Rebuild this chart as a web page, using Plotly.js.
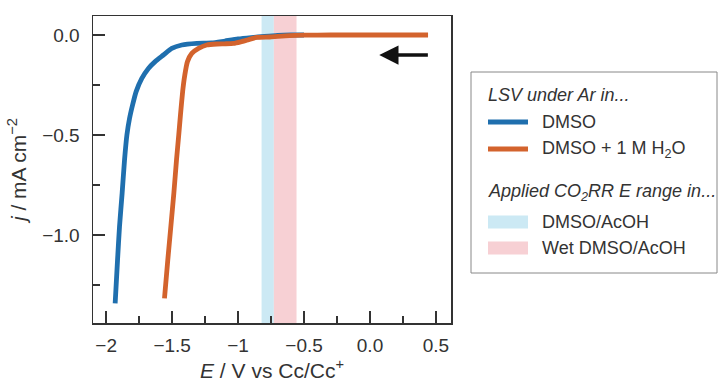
<!DOCTYPE html>
<html>
<head>
<meta charset="utf-8">
<script src="https://cdn.plot.ly/plotly-3.0.1.min.js"></script>
<style>html,body{margin:0;padding:0;background:#fff;}#chart{width:720px;height:382px;}</style>
</head>
<body>
<div id="chart"></div>
<script>
// ---- data ----
const dmsoE = [-1.932,-1.914,-1.899,-1.879,-1.861,-1.843,-1.823,-1.800,-1.773,-1.730,-1.680,-1.629,-1.566,-1.503,-1.427,-1.313,-1.200,-1.100,-1.000,-0.900,-0.800,-0.700,-0.600,-0.500];
const dmsoJ = [-1.342,-1.125,-0.958,-0.790,-0.625,-0.500,-0.417,-0.350,-0.283,-0.217,-0.167,-0.133,-0.100,-0.067,-0.050,-0.042,-0.040,-0.030,-0.020,-0.013,-0.007,-0.002,0.000,0.000];
const wetE = [-1.558,-1.533,-1.510,-1.487,-1.467,-1.450,-1.437,-1.420,-1.404,-1.384,-1.351,-1.300,-1.238,-1.160,-1.100,-1.035,-0.980,-0.930,-0.860,-0.760,-0.700,-0.610,-0.500,-0.300,0.000,0.200,0.440];
const wetJ = [-1.317,-1.125,-0.958,-0.790,-0.625,-0.500,-0.400,-0.280,-0.200,-0.133,-0.092,-0.067,-0.050,-0.045,-0.044,-0.042,-0.034,-0.025,-0.012,-0.010,-0.007,-0.003,-0.001,0.000,0.000,0.000,0.000];
const bandNames = ['DMSO/AcOH','Wet DMSO/AcOH'];
const bandStart = [-0.822,-0.729];
const bandEnd = [-0.729,-0.557];
const seriesNames = ['DMSO','DMSO + 1 M H<sub>2</sub>O'];
const xTickVals = [-2,-1.5,-1,-0.5,0,0.5];
const xTickText = ['\u22122','\u22121.5','\u22121','\u22120.5','0.0','0.5'];
const yTickVals = [0,-0.5,-1.0];
const yTickText = ['0.0','\u22120.5','\u22121.0'];
const legendHeadings = ['LSV under Ar in...','Applied CO<sub>2</sub>RR E range in...'];

// ---- style ----
const blue = '#1f6fae', orange = '#d3632d';
const bandColors = ['#cce9f4','#f7d0d4'];
const txt = '#333333';
const FONT = 'Liberation Sans, Arial, sans-serif';

const W = 720, H = 382;
const M = {l:93, r:269, t:16, b:59};
const pw = W - M.l - M.r, ph = H - M.t - M.b;
const px = v => (v - M.l) / pw;            // pixel -> paper x
const py = v => 1 - (v - M.t) / ph;        // pixel -> paper y

const traces = [
  {x: dmsoE, y: dmsoJ, mode:'lines', line:{color:blue, width:4.8, shape:'spline', smoothing:0.6}, name: seriesNames[0], showlegend:false, hoverinfo:'skip'},
  {x: wetE, y: wetJ, mode:'lines', line:{color:orange, width:4.8, shape:'spline', smoothing:0.5}, name: seriesNames[1], showlegend:false, hoverinfo:'skip'}
];

const shapes = [];
bandStart.forEach((s,i)=>{
  shapes.push({type:'rect', xref:'x', yref:'paper', x0:s, x1:bandEnd[i], y0:0, y1:1, fillcolor:bandColors[i], line:{width:0}, layer:'below'});
});
// legend box
shapes.push({type:'rect', xref:'paper', yref:'paper', x0:px(471), x1:px(717), y0:py(72), y1:py(273), line:{color:'#888888', width:1}, fillcolor:'rgba(0,0,0,0)'});
// legend swatches
const lineRowsY = [122, 149];
const lineCols = [blue, orange];
lineRowsY.forEach((yy,i)=>{
  shapes.push({type:'line', xref:'paper', yref:'paper', x0:px(488), x1:px(528), y0:py(yy), y1:py(yy), line:{color:lineCols[i], width:4.8}});
});
const rectRowsY = [222, 248];
rectRowsY.forEach((yy,i)=>{
  shapes.push({type:'rect', xref:'paper', yref:'paper', x0:px(488), x1:px(528), y0:py(yy-6.5), y1:py(yy+6.5), fillcolor:bandColors[i], line:{width:0}});
});

const annotations = [];
const headY = [95, 192];
legendHeadings.forEach((t,i)=>{
  annotations.push({xref:'paper', yref:'paper', x:px(486), y:py(headY[i]), xanchor:'left', yanchor:'middle', text:'<i>'+t+'</i>', showarrow:false, font:{family:FONT, size:18, color:txt}});
});
const itemTexts = [seriesNames[0], seriesNames[1], bandNames[0], bandNames[1]];
const itemY = [lineRowsY[0], lineRowsY[1], rectRowsY[0], rectRowsY[1]];
itemTexts.forEach((t,i)=>{
  annotations.push({xref:'paper', yref:'paper', x:px(540), y:py(itemY[i]), xanchor:'left', yanchor:'middle', text:t, showarrow:false, font:{family:FONT, size:18, color:txt}});
});
// scan direction arrow
annotations.push({xref:'x', yref:'y', axref:'x', ayref:'y', x:0.07, y:-0.1, ax:0.45, ay:-0.1, text:'', showarrow:true, arrowhead:2, arrowsize:1.1, arrowwidth:3.5, arrowcolor:'#111111'});

const layout = {
  width: W, height: H,
  margin: M,
  paper_bgcolor:'#ffffff', plot_bgcolor:'rgba(0,0,0,0)',
  font:{family:FONT, size:18, color:txt},
  showlegend:false,
  xaxis:{
    range:[-2.1, 0.614], showgrid:false, zeroline:false,
    showline:true, mirror:true, linecolor:'#333333', linewidth:1.5,
    ticks:'inside', ticklen:12, tickwidth:1.5, tickcolor:'#333333',
    tickmode:'array', tickvals:xTickVals, ticktext:xTickText,
    tickfont:{family:FONT, size:19, color:txt}, ticklabelstandoff:5,
    minor:{tickvals:[-1.75,-1.25,-0.75,-0.25,0.25], ticks:'inside', ticklen:7, tickwidth:1.5, tickcolor:'#333333', showgrid:false},
    title:{text:'<i>E</i> / V vs Cc/Cc<sup>+</sup>', font:{family:FONT, size:21, color:txt}, standoff:10}
  },
  yaxis:{
    range:[-1.44, 0.095], showgrid:false, zeroline:false,
    showline:true, mirror:true, linecolor:'#333333', linewidth:1.5,
    ticks:'inside', ticklen:12, tickwidth:1.5, tickcolor:'#333333',
    tickmode:'array', tickvals:yTickVals, ticktext:yTickText,
    tickfont:{family:FONT, size:19, color:txt}, ticklabelstandoff:8,
    minor:{tickvals:[-0.25,-0.75,-1.25], ticks:'inside', ticklen:7, tickwidth:1.5, tickcolor:'#333333', showgrid:false},
    title:{text:'<i>j</i> / mA cm<sup>\u22122</sup>', font:{family:FONT, size:21, color:txt}, standoff:10}
  },
  shapes: shapes,
  annotations: annotations
};

Plotly.newPlot('chart', traces, layout, {staticPlot:true, displayModeBar:false});
</script>
</body>
</html>
